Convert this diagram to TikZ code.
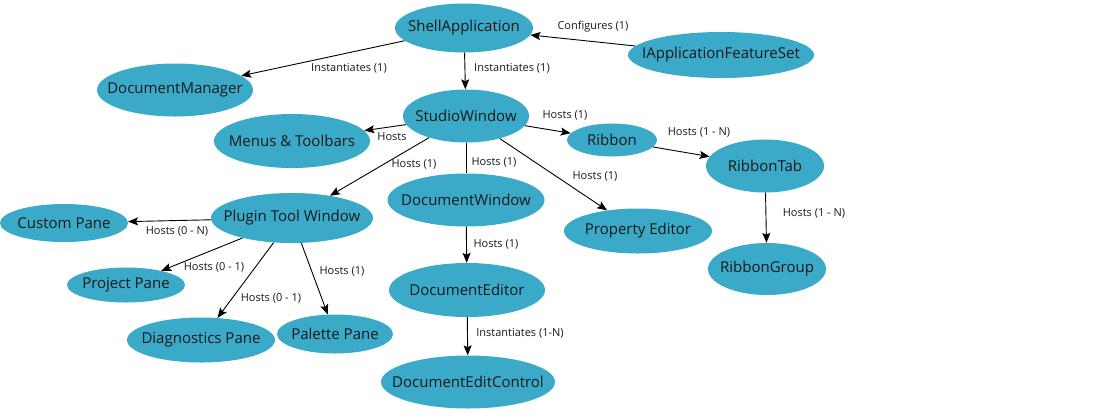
\documentclass[tikz,border=0pt]{standalone}
\usepackage{fontspec}
\setmainfont{Open Sans}
\usetikzlibrary{shapes.geometric,arrows.meta}
\definecolor{nodeblue}{RGB}{58,170,200}
\definecolor{inkgray}{RGB}{25,25,25}
\newcommand{\ctext}[1]{\makebox[0pt]{#1}}
\begin{document}
\begin{tikzpicture}[x=1bp,y=-1bp,
    box/.style={ellipse, fill=nodeblue, inner sep=0pt, text=inkgray,
      font=\fontsize{15bp}{18bp}\selectfont},
    edge/.style={-{Stealth[length=10bp,width=8bp,inset=2bp]}, line width=0.9bp, draw=black},
    lab/.style={text=inkgray, font=\fontsize{11bp}{13bp}\selectfont, inner sep=0pt}]
    \useasboundingbox (0,0) rectangle (1120,419);

    % the nodes (sizes taken from the ellipses in the picture)
    \node[box, minimum width=138bp, minimum height=49bp] (shell) at (464,28) {\ctext{ShellApplication}};
    \node[box, minimum width=186bp, minimum height=46bp] (feat) at (721,55) {\ctext{IApplicationFeatureSet}};
    \node[box, minimum width=156bp, minimum height=53bp] (docman) at (175,90) {\ctext{DocumentManager}};
    \node[box, minimum width=126bp, minimum height=53bp] (studio) at (466,116) {\ctext{StudioWindow}};
    \node[box, minimum width=156bp, minimum height=54bp] (menus) at (292,141) {\ctext{Menus \& Toolbars}};
    \node[box, minimum width=90bp, minimum height=33bp] (ribbon) at (612,140) {\ctext{Ribbon}};
    \node[box, minimum width=118bp, minimum height=53bp] (rtab) at (765,166) {\ctext{RibbonTab}};
    \node[box, minimum width=118bp, minimum height=52bp] (rgroup) at (767,269) {\ctext{RibbonGroup}};
    \node[box, minimum width=148bp, minimum height=45bp] (propedit) at (638,231) {\ctext{Property Editor}};
    \node[box, minimum width=157bp, minimum height=53bp] (docwin) at (466,200) {\ctext{DocumentWindow}};
    \node[box, minimum width=156bp, minimum height=54bp] (doced) at (467,290) {\ctext{DocumentEditor}};
    \node[box, minimum width=174bp, minimum height=53bp] (editctl) at (468,382) {\ctext{DocumentEditControl}};
    \node[box, minimum width=162bp, minimum height=50bp] (plugin) at (292,218) {\ctext{Plugin Tool Window}};
    \node[box, minimum width=128bp, minimum height=38bp] (custom) at (64,223) {\ctext{Custom Pane}};
    \node[box, minimum width=118bp, minimum height=35bp] (project) at (126,285) {\ctext{Project Pane}};
    \node[box, minimum width=148bp, minimum height=45bp] (diag) at (201,340) {\ctext{Diagnostics Pane}};
    \node[box, minimum width=116bp, minimum height=39bp] (palette) at (335,334) {\ctext{Palette Pane}};

    % draw the arrows
    \draw[edge] (feat) -- (shell);
    \draw[edge] (shell) -- (docman);
    \draw[edge] (shell) -- (studio);
    \draw[edge] (studio) -- (menus);
    \draw[edge] (studio) -- (ribbon);
    \draw[edge] (ribbon) -- (rtab);
    \draw[edge] (rtab) -- (rgroup);
    \draw[edge] (studio) -- (plugin);
    \draw[line width=0.9bp] (studio) -- (docwin);
    \draw[edge] (studio) -- (propedit);
    \draw[edge] (docwin) -- (doced);
    \draw[edge] (doced) -- (editctl);
    \draw[edge] (plugin) -- (custom);
    \draw[edge] (plugin) -- (project);
    \draw[edge] (plugin) -- (diag);
    \draw[edge] (plugin) -- (palette);

    % the texts on the arrows
    \node[lab] (lconf) at (593,27) {Configures (1)};
    \node[lab] (linstdm) at (349,68) {Instantiates (1)};
    \node[lab] (linstsw) at (512,68) {Instantiates (1)};
    \node[lab] (lmenus) at (392,137) {Hosts};
    \node[lab] (lribbon) at (565,115) {Hosts (1)};
    \node[lab] (lrtab) at (699,132) {Hosts (1 - N)};
    \node[lab] (lrgroup) at (814,213) {Hosts (1 - N)};
    \node[lab] (lprop) at (595,176) {Hosts (1)};
    \node[lab] (lplugin) at (414,164) {Hosts (1)};
    \node[lab] (ldocwin) at (494,162) {Hosts (1)};
    \node[lab] (ldoced) at (496,244) {Hosts (1)};
    \node[lab] (lctl) at (520,333) {Instantiates (1-N)};
    \node[lab] (lcustom) at (177,231) {Hosts (0 - N)};
    \node[lab] (lproject) at (214,267) {Hosts (0 - 1)};
    \node[lab] (ldiag) at (271,298) {Hosts (0 - 1)};
    \node[lab] (lpalette) at (342,271) {Hosts (1)};

\end{tikzpicture}
\end{document}
